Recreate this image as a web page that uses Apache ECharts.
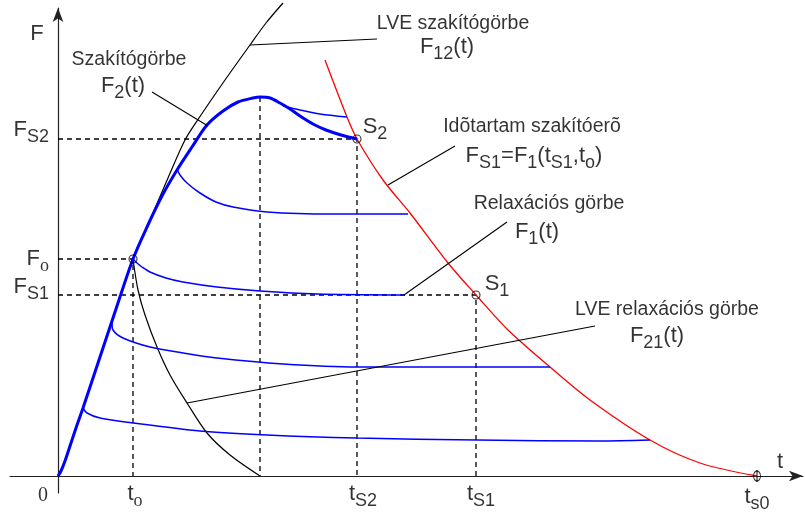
<!DOCTYPE html>
<html>
<head>
<meta charset="utf-8">
<script src="https://cdn.jsdelivr.net/npm/echarts@6/dist/echarts.min.js"></script>
<style>
  html, body { margin: 0; background: #fff; }
  #chart { width: 805px; height: 514px; }
</style>
</head>
<body>
<div id="chart"></div>
<script>
// sketch units: t and F counted from the origin of the diagram

// key points
const Fo = [75, 217];
const S2 = [299, 337];
const S1 = [418, 181];
const peak = [202, 379];
const ts0 = [699, 0];

// Szakítógörbe F2(t) (thick blue)
const f2Curve = [[0,0],[3,5],[7,15],[12,30],[18,48],[25,68],[42,119],[58,167],[75,217],[89,249],[104,280],[119,306],[134,329],[149,351],[165,365],[180,374],[195,378],[202,379],[212,378],[222,373],[232,367],[242,360],[255,352],[268,346],[283,341],[299,337]];

// LVE szakítógörbe F12(t)
const f12Curve = [[0,0],[7,15],[18,48],[25,68],[42,119],[58,167],[75,217],[92,256],[110,298],[127,336],[141,358],[167,396],[192,431],[208,453],[225,473]];

// LVE relaxációs görbe F21(t)
const f21Curve = [[75,217],[80,186],[87,161],[99,129],[112,101],[129,73],[149,43],[172,21],[202,0]];

// Időtartam szakítóerő (red)
const breakCurve = [[267,416],[289,359],[299,337],[325,296],[352,263],[390,213],[418,181],[450,146],[492,109],[532,76],[592,36],[642,13],[699,0]];

// relaxation curves F1(t) (thin blue)
const relax1 = [[225,370],[242,366],[262,362],[289,359]];
const relax2 = [[119,307],[122,301],[129,293],[142,283],[158,274],[175,269],[209,264],[275,262],[350,262]];
const relax3 = [[75,217],[79,213],[84,209],[92,204],[108,198],[125,194],[159,189],[202,185],[259,182],[347,181]];
const relax4 = [[54,153],[55,146],[65,138],[92,129],[125,123],[159,118],[225,112],[299,109],[419,109],[492,109]];
const relax5 = [[25,68],[29,63],[42,58],[75,53],[142,45],[209,41],[299,38],[419,36],[542,35],[592,36]];

// leader lines of the captions
const leaders = [
  [[94,384],[150,350]],
  [[192,431],[319,437]],
  [[330,291],[397,330]],
  [[346,181],[449,254]],
  [[129,73],[537,150]]
];

// tick labels
const tTicks = [0, Fo[0], S2[0], S1[0], ts0[0]];
const tNames = ['{z|0}', '{m|t}{o|o}', '{m|t}{s|S2}', '{m|t}{s|S1}', '{m|t}{s|s0}'];
const fTicks = [S2[1], Fo[1], S1[1]];
const fNames = ['{m|F}{s|S2}', '{m|F}{o|o}', '{m|F}{s|S1}'];

// captions
const captions = [
  [71, 416, '{c|Szakítógörbe}'],
  [65, 390, '{m|F}{s|2}{m|(t)}'],
  [395, 452, '{c|LVE szakítógörbe}'],
  [389, 429, '{m|F}{s|12}{m|(t)}'],
  [474, 349, '{c|Idõtartam szakítóerõ}'],
  [476, 320, '{m|F}{s|S1}{m|=F}{s|1}{m|(t}{s|S1}{m|,t}{s|o}{m|)}'],
  [491, 272, '{c|Relaxációs görbe}'],
  [479, 244, '{m|F}{s|1}{m|(t)}'],
  [439, 192, '{m|S}{s|1}'],
  [317, 349, '{m|S}{s|2}'],
  [609, 166, '{c|LVE relaxációs görbe}'],
  [599, 140, '{m|F}{s|21}{m|(t)}'],
  [-21, 442, '{m|F}'],
  [722, 14, '{m|t}']
];

// label nudges (pixels)
const tNudge = [[-15, 2], [2, 0], [6, 0], [5, 0], [0, 3]];
const fNudge = [[0, -9], [0, 0], [0, -8]];

const rich = {
  m: { fontSize: 22, lineHeight: 24, color: '#000' },
  s: { fontSize: 18, lineHeight: 10, verticalAlign: 'top', padding: [10, 0, 0, 0], color: '#000' },
  o: { fontSize: 18, lineHeight: 10, verticalAlign: 'top', padding: [10, 0, 0, 0], color: '#000', fontFamily: 'Liberation Serif' },
  c: { fontSize: 19.5, lineHeight: 24, color: '#000' },
  z: { fontSize: 20, lineHeight: 24, color: '#000', fontFamily: 'Liberation Serif' }
};

const BLUE = '#0000ff';

function curve(data, color, width, z) {
  return {
    type: 'line', data: data, smooth: 0.3,
    showSymbol: false, symbol: 'none', clip: false, z: z || 2,
    lineStyle: { color: color, width: width }
  };
}

function dashed(data) {
  return {
    type: 'line', data: data, showSymbol: false, symbol: 'none', z: 1,
    lineStyle: { color: '#000', width: 1.3, type: [5, 4] }
  };
}

const series = [
  dashed([[0, S2[1]], S2, [S2[0], 0]]),
  dashed([[0, Fo[1]], Fo, [Fo[0], 0]]),
  dashed([[0, S1[1]], S1, [S1[0], 0]]),
  dashed([peak, [peak[0], 0]]),
  curve(f12Curve, '#000', 1.2),
  curve(f21Curve, '#000', 1.2),
  curve(breakCurve, '#ff0000', 1.3),
  curve(relax1, BLUE, 1.5, 3),
  curve(relax2, BLUE, 1.5, 3),
  curve(relax3, BLUE, 1.5, 3),
  curve(relax4, BLUE, 1.5, 3),
  curve(relax5, BLUE, 1.5, 3),
  curve(f2Curve, BLUE, 3, 4)
];

leaders.forEach(function (seg) {
  series.push({
    type: 'line', data: seg, showSymbol: false, symbol: 'none', z: 5,
    lineStyle: { color: '#000', width: 1.1 }
  });
});

series.push({
  type: 'scatter', data: [Fo, S2, S1], symbol: 'circle', symbolSize: 8, z: 6,
  itemStyle: { color: 'rgba(0,0,0,0)', borderColor: '#000', borderWidth: 1.1 }
});
series.push({
  type: 'scatter', data: [ts0], symbol: 'circle', symbolSize: [7, 10], z: 6,
  itemStyle: { color: 'rgba(0,0,0,0)', borderColor: '#000', borderWidth: 1.1 }
});
series.push({
  type: 'scatter', data: [ts0], symbol: 'rect', symbolSize: [1.2, 12], z: 6,
  itemStyle: { color: '#000' }
});

// t tick labels under the axis
series.push({
  type: 'scatter', symbolSize: 0, clip: false, silent: true, z: 7,
  data: tTicks.map(function (t, i) {
    return { value: [t, 0], label: { formatter: tNames[i], offset: tNudge[i] } };
  }),
  label: { show: true, position: 'bottom', distance: 6, rich: rich }
});
// F tick labels left of the axis
series.push({
  type: 'scatter', symbolSize: 0, clip: false, silent: true, z: 7,
  data: fTicks.map(function (f, i) {
    return { value: [0, f], label: { formatter: fNames[i], offset: fNudge[i] } };
  }),
  label: { show: true, position: 'left', distance: 9, rich: rich }
});
// captions
series.push({
  type: 'scatter', symbolSize: 0, clip: false, silent: true, z: 7,
  data: captions.map(function (c) {
    return { value: [c[0], c[1]], label: { formatter: c[2] } };
  }),
  label: { show: true, position: 'inside', rich: rich }
});

const axisLine = {
  show: true, onZero: true, symbol: ['none', 'arrow'], symbolSize: [8, 14],
  lineStyle: { color: '#222', width: 1.2 }
};

const option = {
  animation: false,
  backgroundColor: '#fff',
  textStyle: { fontFamily: 'Liberation Sans, Arial, sans-serif' },
  grid: { left: 10, right: 2, top: 8, bottom: 21, outerBoundsMode: 'none', containLabel: false },
  xAxis: {
    type: 'value', min: -48, max: 745,
    axisLine: axisLine, axisTick: { show: false }, axisLabel: { show: false }, splitLine: { show: false }
  },
  yAxis: {
    type: 'value', min: -17, max: 468,
    axisLine: axisLine, axisTick: { show: false }, axisLabel: { show: false }, splitLine: { show: false }
  },
  series: series
};

const chart = echarts.init(document.getElementById('chart'));
chart.setOption(option);
</script>
</body>
</html>
